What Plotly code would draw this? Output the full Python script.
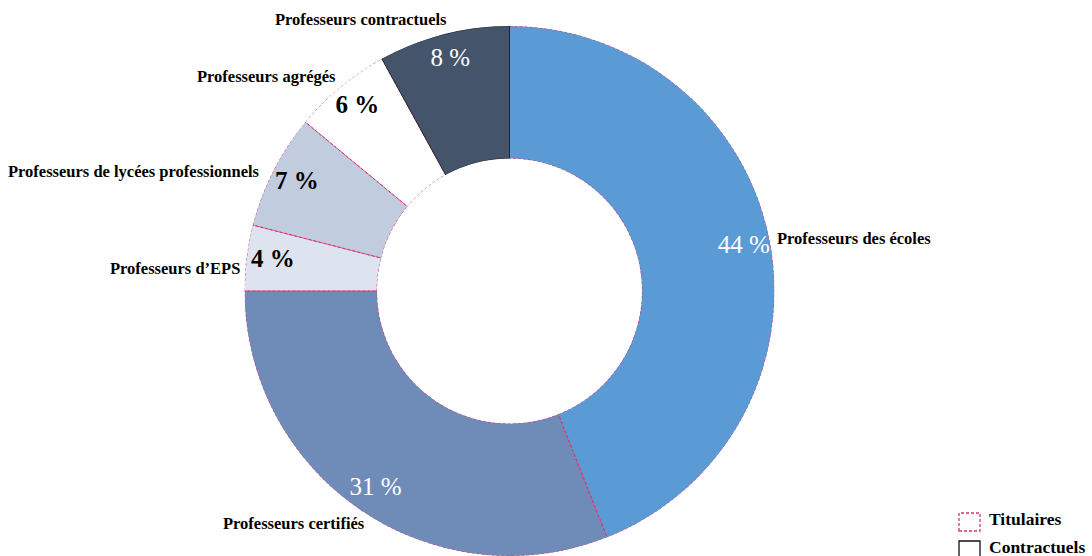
import numpy as np
import plotly.graph_objects as go

# Répartition des enseignants par corps (en %)
categories = [
    "Professeurs des écoles",
    "Professeurs certifiés",
    "Professeurs d’EPS",
    "Professeurs de lycées professionnels",
    "Professeurs agrégés",
    "Professeurs contractuels",
]
shares = [44, 31, 4, 7, 6, 8]
statut = ["Titulaires", "Titulaires", "Titulaires", "Titulaires", "Titulaires", "Contractuels"]

fill_colors = ["#5B9BD5", "#6F8CB9", "#DEE4EF", "#C1CCDF", "#FFFFFF", "#44546A"]
pct_colors = ["white", "white", "black", "black", "black", "white"]

SERIF = "Palatino Linotype, Book Antiqua, Liberation Serif, DejaVu Serif, serif"
TIT_LINE = "#D4376E"
CON_LINE = "#1E2633"

W, H = 1092, 556
CX, CY, R_OUT = 509.5, 291.0, 265.0  # centre et rayon de l'anneau (px)

total = float(sum(shares))
widths = np.array([v / total * 360.0 for v in shares])
starts = np.concatenate([[0.0], np.cumsum(widths)[:-1]])
mids = starts + widths / 2.0

fig = go.Figure()

# Anneau : une barre polaire par corps
fig.add_trace(go.Barpolar(
    r=[1.0] * len(shares),
    theta=mids,
    width=widths,
    base=0,
    marker=dict(color=fill_colors, line=dict(width=0)),
    hoverinfo="skip",
    showlegend=False,
))

# Contours des secteurs : pointillés pour les titulaires, trait plein pour les contractuels
def outline(a0, a1):
    outer = np.linspace(a0, a1, 80)
    inner = outer[::-1]
    th = np.concatenate([outer, [a1], inner, [a0], [a0]])
    rr = np.concatenate([np.ones_like(outer), [0.0], np.zeros_like(inner), [0.0], [1.0]])
    return rr, th

order = [i for i, s in enumerate(statut) if s == "Titulaires"] + \
        [i for i, s in enumerate(statut) if s == "Contractuels"]
for i in order:
    rr, th = outline(starts[i], starts[i] + widths[i])
    tit = statut[i] == "Titulaires"
    fig.add_trace(go.Scatterpolar(
        r=rr, theta=th, mode="lines",
        line=dict(color=TIT_LINE if tit else CON_LINE, width=1,
                  dash="3px,2px" if tit else "solid"),
        hoverinfo="skip", showlegend=False,
    ))

# Pourcentages dans l'anneau
pct_text = []
for v, c in zip(shares, pct_colors):
    t = f"{v} %"
    pct_text.append(t if c == "white" else f"<b>{t}</b>")
fig.add_trace(go.Scatterpolar(
    r=[0.8] * len(shares), theta=mids, mode="text",
    text=pct_text,
    textfont=dict(family=SERIF, size=25, color=pct_colors),
    cliponaxis=False, hoverinfo="skip", showlegend=False,
))

# Libellés des corps à l'extérieur de l'anneau
label_radius = [270, 274, 270, 276, 276, 278]
label_xanchor = ["left", "right", "right", "right", "right", "right"]
label_shift = [(0, 2), (12, -6), (0, -11), (-2, -6), (4, 2), (9, 2)]

annotations = []
for cat, ang, rad, xa, (dx, dy) in zip(categories, mids, label_radius, label_xanchor, label_shift):
    a = np.radians(ang)
    px = CX + rad * np.sin(a)
    py = CY - rad * np.cos(a)
    annotations.append(dict(
        xref="paper", yref="paper", x=px / W, y=1 - py / H,
        xanchor=xa, yanchor="middle", xshift=dx, yshift=dy, showarrow=False,
        text=f"<b>{cat}</b>", font=dict(family=SERIF, size=16.5, color="black"),
    ))

# Légende : statut
legend_items = [("Titulaires", TIT_LINE, "3px,2px"), ("Contractuels", "#111111", "solid")]
shapes = []
for k, (name, col, dash) in enumerate(legend_items):
    y0 = 513 + k * 28
    shapes.append(dict(type="rect", xref="paper", yref="paper",
                       x0=959 / W, x1=980 / W, y0=1 - (y0 + 18) / H, y1=1 - y0 / H,
                       line=dict(color=col, width=1.3, dash=dash), fillcolor="white"))
    annotations.append(dict(xref="paper", yref="paper", x=987 / W, y=1 - (y0 + 6) / H,
                            xanchor="left", yanchor="middle", showarrow=False,
                            text=f"<b>{name}</b>",
                            font=dict(family=SERIF, size=17.5, color="black")))

fig.update_layout(
    width=W, height=H,
    margin=dict(l=0, r=0, t=0, b=0),
    paper_bgcolor="white", plot_bgcolor="white",
    polar=dict(
        domain=dict(x=[(CX - R_OUT) / W, (CX + R_OUT) / W], y=[0.0, 1 - (CY - R_OUT) / H]),
        hole=0.5,
        bgcolor="rgba(0,0,0,0)",
        radialaxis=dict(range=[0, 1], visible=False),
        angularaxis=dict(rotation=90, direction="clockwise", visible=False),
    ),
    shapes=shapes,
    annotations=annotations,
    showlegend=False,
)

fig.write_html("out.html")
